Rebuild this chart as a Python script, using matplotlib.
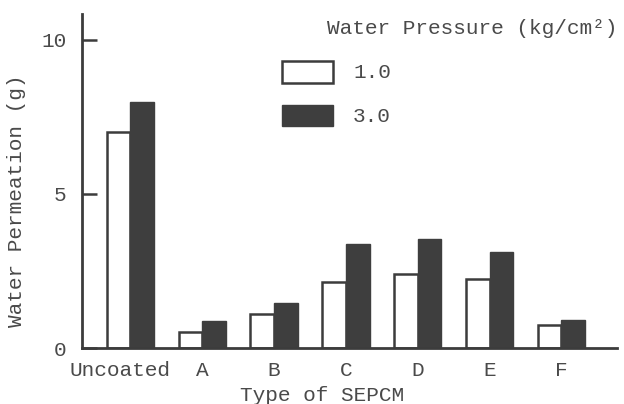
import matplotlib
matplotlib.use("Agg")
import matplotlib.pyplot as plt
import numpy as np
from matplotlib.patches import Rectangle
from matplotlib.transforms import ScaledTranslation

categories = ["Uncoated", "A", "B", "C", "D", "E", "F"]
p1_values = [7.0, 0.53, 1.09, 2.14, 2.41, 2.25, 0.74]
p3_values = [8.0, 0.89, 1.46, 3.37, 3.54, 3.10, 0.91]
series_labels = ["1.0", "3.0"]
legend_title = "Water Pressure (kg/cm\u00b2)"
yticks = [0, 5, 10]

FONT = "Liberation Mono"
TXT = "#4a4a4a"
LINE = "#3c3c3c"
DARK = "#3e3e3e"
FS = 15.2

plt.rcParams['font.family'] = [FONT, 'DejaVu Sans']

fig = plt.figure(figsize=(6.24, 4.04), dpi=100)
W, H = 624, 404
ax = fig.add_axes([82 / W, 1 - 348 / H, 535 / W, 334 / H])

x = np.arange(len(categories))
bw = 0.33
ax.bar(x - bw / 2, p1_values, bw, color="white", edgecolor=LINE, linewidth=1.8)
ax.bar(x + bw / 2, p3_values, bw, color=DARK, edgecolor=DARK, linewidth=1.0)

ax.set_xlim(-0.675, 6.775)
ax.set_ylim(0, 10.84)
for s in ["top", "right"]:
    ax.spines[s].set_visible(False)
for s in ["left", "bottom"]:
    ax.spines[s].set_color(LINE)
    ax.spines[s].set_linewidth(2.0)

ax.set_yticks(yticks)
ax.set_yticklabels([str(v) for v in yticks], fontsize=FS, color=TXT)
ax.tick_params(axis="y", direction="in", length=11, width=1.8, color=LINE, pad=11)
ax.set_xticks(x)
ax.set_xticklabels(categories, fontsize=FS, color=TXT)
ax.tick_params(axis="x", length=0, pad=9)
lbl0 = ax.get_xticklabels()[0]
lbl0.set_transform(lbl0.get_transform() + ScaledTranslation(-10 / 100, 0, fig.dpi_scale_trans))

ax.set_xlabel("Type of SEPCM", fontsize=FS, color=TXT)
ax.xaxis.set_label_coords(0.449, -0.113)
ax.set_ylabel("Water Permeation (g)", fontsize=FS, color=TXT)
ax.yaxis.set_label_coords(-0.104, 0.44)

# legend (drawn manually in figure pixel coordinates)
def fx(px):
    return px / W

def fy(py):
    return 1 - py / H

fig.text(fx(327), fy(29), legend_title, fontsize=FS, color=TXT, va="center", ha="left")
fig.patches.append(Rectangle((fx(282), fy(83)), fx(333) - fx(282), fy(61) - fy(83),
                             transform=fig.transFigure, facecolor="white",
                             edgecolor=LINE, linewidth=1.8))
fig.patches.append(Rectangle((fx(282), fy(126)), fx(333) - fx(282), fy(105) - fy(126),
                             transform=fig.transFigure, facecolor=DARK,
                             edgecolor=DARK, linewidth=1.0))
fig.text(fx(353), fy(73), series_labels[0], fontsize=FS, color=TXT, va="center", ha="left")
fig.text(fx(353), fy(116), series_labels[1], fontsize=FS, color=TXT, va="center", ha="left")

fig.savefig("out.png", dpi=100)
